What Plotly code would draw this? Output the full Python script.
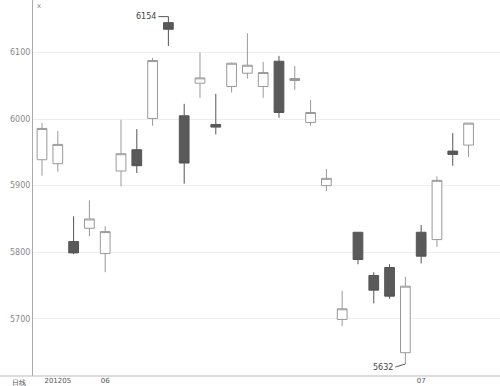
import plotly.graph_objects as go

idx = list(range(28))
opens = [5939, 5933, 5816, 5836, 5798, 5922, 5954, 6001, 6145, 6005, 6054, 5992, 6049, 6069,
         6049, 6087, 6058, 5995, 5900, 5699, 5830, 5765, 5777, 5649, 5830, 5819, 5952, 5961]
highs = [5994, 5982, 5854, 5878, 5839, 5999, 5985, 6092, 6154, 6023, 6100, 6038, 6085, 6129,
         6086, 6095, 6080, 6029, 5925, 5742, 5830, 5770, 5782, 5763, 5841, 5914, 5979, 5994]
lows = [5915, 5921, 5797, 5824, 5770, 5899, 5919, 5990, 6110, 5903, 6032, 5977, 6040, 6061,
        6032, 6002, 6044, 5990, 5892, 5689, 5782, 5723, 5730, 5632, 5783, 5808, 5930, 5943]
closes = [5986, 5962, 5799, 5850, 5831, 5948, 5930, 6088, 6135, 5934, 6062, 5988, 6084, 6081,
          6070, 6010, 6061, 6010, 5911, 5715, 5789, 5743, 5734, 5749, 5794, 5908, 5947, 5994]
tick_pos = [1, 4, 24]
tick_text = ["201205", "06", "07"]
y_ticks = [5700, 5800, 5900, 6000, 6100]

hi_i = highs.index(max(highs))
lo_i = lows.index(min(lows))

W, H = 500, 386
L, R, T, B = 33, 0, 0, 10
pw, ph = W - L - R, H - T - B

fig = go.Figure(go.Candlestick(
    x=idx, open=opens, high=highs, low=lows, close=closes,
    increasing=dict(line=dict(color="#999999", width=1), fillcolor="#ffffff"),
    decreasing=dict(line=dict(color="#555555", width=1), fillcolor="#5a5a5a"),
    whiskerwidth=0, showlegend=False, hoverinfo="skip",
))

fig.update_layout(
    width=W, height=H,
    margin=dict(l=L, r=R, t=T, b=B, autoexpand=False),
    paper_bgcolor="white", plot_bgcolor="white",
    boxgap=0.12,
    font=dict(family="DejaVu Sans", size=8, color="#777777"),
    xaxis=dict(range=[-0.57, 28.99], rangeslider=dict(visible=False),
               tickmode="array", tickvals=tick_pos, ticktext=tick_text,
               showgrid=False, showline=False, zeroline=False, ticks="",
               automargin=False,
               tickfont=dict(size=7, color="#555555"), ticklabelstandoff=-1),
    yaxis=dict(range=[5614, 6179], tickmode="array", tickvals=y_ticks,
               showgrid=True, gridcolor="#eeeeee", gridwidth=1,
               showline=True, linecolor="#aaaaaa", linewidth=1,
               automargin=False,
               zeroline=False, ticks="", tickfont=dict(size=8, color="#888888")),
    shapes=[dict(type="line", xref="paper", yref="paper", x0=-L / pw, x1=1, y0=0, y1=0,
                 line=dict(color="#bbbbbb", width=1))],
    annotations=[
        dict(x=hi_i, y=highs[hi_i], text=str(highs[hi_i]), showarrow=True, arrowhead=0,
             ax=-10, ay=0, xanchor="right", arrowcolor="#555555", arrowwidth=1,
             font=dict(size=8, color="#444444")),
        dict(x=lo_i, y=lows[lo_i], text=str(lows[lo_i]), showarrow=True, arrowhead=0,
             ax=-10, ay=3, xanchor="right", arrowcolor="#555555", arrowwidth=1,
             font=dict(size=8, color="#444444")),
        dict(xref="paper", yref="paper", x=(10 - L) / pw, y=-1 / ph, text="日线",
             showarrow=False, yanchor="top", font=dict(size=7, color="#444444")),
        dict(xref="paper", yref="paper", x=2 / pw, y=1, text="x", showarrow=False,
             xanchor="left", yanchor="top", font=dict(size=7, color="#888888")),
    ],
)

fig.write_html("out.html", config={"displayModeBar": False},
               post_script="document.body.style.margin='0';")
